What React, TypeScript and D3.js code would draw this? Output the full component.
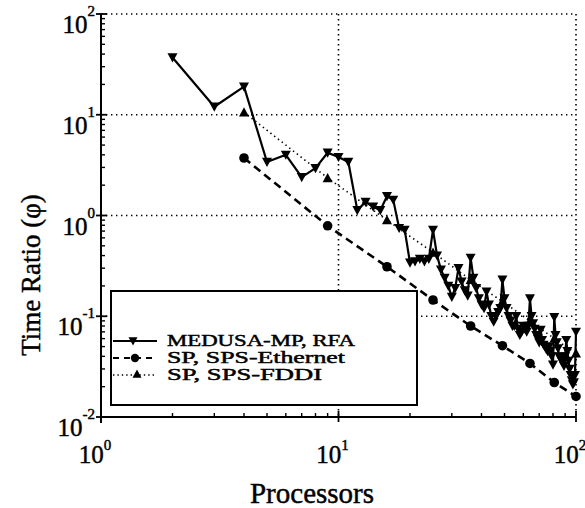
import React from "react";
import * as d3 from "d3";

// Processor counts for the MEDUSA-MP run (every count from 2 to 100)
const medusaProcs = [
  2, 3, 4, 5, 6, 7, 8, 9, 10, 11, 12, 13, 14, 15, 16, 17, 18, 19, 20,
  21, 22, 23, 24, 25, 26, 27, 28, 29, 30, 31, 32, 33, 34, 35, 36, 37, 38, 39, 40,
  41, 42, 43, 44, 45, 46, 47, 48, 49, 50, 51, 52, 53, 54, 55, 56, 57, 58, 59, 60,
  61, 62, 63, 64, 65, 66, 67, 68, 69, 70, 71, 72, 73, 74, 75, 76, 77, 78, 79, 80,
  81, 82, 83, 84, 85, 86, 87, 88, 89, 90, 91, 92, 93, 94, 95, 96, 97, 98, 99, 100,
];
const medusaRatio = [
  37, 12, 19, 3.4, 4.0, 2.4, 2.95, 4.2, 3.8, 3.4, 1.13, 1.36, 1.22, 1.13, 1.55, 1.43, 0.75, 0.72, 0.34,
  0.35, 0.37, 0.35, 0.37, 0.72, 0.4, 0.29, 0.24, 0.2, 0.155, 0.19, 0.3, 0.22, 0.18, 0.16, 0.38, 0.24, 0.19, 0.15, 0.13,
  0.12, 0.175, 0.13, 0.1, 0.088, 0.1, 0.11, 0.12, 0.23, 0.15, 0.12, 0.1, 0.09, 0.08, 0.08, 0.1, 0.075, 0.065, 0.07, 0.08,
  0.075, 0.07, 0.08, 0.15, 0.1, 0.085, 0.075, 0.065, 0.06, 0.055, 0.073, 0.058, 0.052, 0.05, 0.047, 0.045, 0.05, 0.045, 0.04, 0.033,
  0.098, 0.065, 0.055, 0.048, 0.04, 0.038, 0.036, 0.035, 0.032, 0.04, 0.058, 0.045, 0.036, 0.03, 0.026, 0.023, 0.021, 0.022, 0.026, 0.07,
];

// SP runs on square processor grids
const spProcs = [4, 9, 16, 25, 36, 49, 64, 81, 100];
const ethernetRatio = [3.72, 0.79, 0.31, 0.145, 0.08, 0.051, 0.034, 0.022, 0.016];
const fddiRatio = [10.6, 2.36, 0.9, 0.43, 0.23, 0.14, 0.09, 0.06, 0.043];

const xDecades = [1, 10, 100];
const xExponents = ["0", "1", "2"];
const yDecades = [0.01, 0.1, 1, 10, 100];
const yExponents = ["-2", "-1", "0", "1", "2"];

const seriesNames = ["MEDUSA-MP, RFA", "SP, SPS-Ethernet", "SP, SPS-FDDI"];

const W = 585;
const H = 508;
const FONT = "'Liberation Serif', 'Times New Roman', serif";

const x = d3.scaleLog().domain([1, 100]).range([101, 576]);
const y = d3.scaleLog().domain([0.01, 100]).range([417, 14]);

const downTri = (s: number) => `M${-s / 2},${-s * 0.42}L${s / 2},${-s * 0.42}L0,${s * 0.5}Z`;
const upTri = (s: number) => `M${-s / 2},${s * 0.42}L${s / 2},${s * 0.42}L0,${-s * 0.5}Z`;

function minorTicks(decades: number[]): number[] {
  const out: number[] = [];
  for (const d of decades) for (let k = 2; k <= 9; k++) out.push(d * k);
  return out;
}

export default function App() {
  const line = d3
    .line<[number, number]>()
    .x((d) => x(d[0]))
    .y((d) => y(d[1]));

  const medusa = medusaProcs.map((p, i) => [p, medusaRatio[i]] as [number, number]);
  const ether = spProcs.map((p, i) => [p, ethernetRatio[i]] as [number, number]);
  const fddi = spProcs.map((p, i) => [p, fddiRatio[i]] as [number, number]);

  const gridDots = { stroke: "#000", strokeWidth: 1.6, strokeDasharray: "1.4 3.6", fill: "none" };
  const ink = { fill: "#000", stroke: "#000", strokeWidth: 0.45 };

  // legend rows: baseline of each label; the sample line sits 6px above it
  const rowBase = [346, 363, 380];

  return (
    <svg width={W} height={H} style={{ display: "block", position: "absolute", left: 0, top: 0, background: "#fff" }}>
      <rect x={0} y={0} width={W} height={H} fill="#fff" />

      {/* dotted decade grid, including the top and right frame */}
      {yDecades.slice(1).map((v) => (
        <line key={"gy" + v} x1={x(1)} x2={x(100)} y1={y(v)} y2={y(v)} {...gridDots} />
      ))}
      {xDecades.slice(1).map((v) => (
        <line key={"gx" + v} x1={x(v)} x2={x(v)} y1={y(100)} y2={y(0.01)} {...gridDots} />
      ))}

      {/* series */}
      <path d={line(fddi) || ""} fill="none" stroke="#000" strokeWidth={1.6} strokeDasharray="1.4 3.4" />
      <path d={line(ether) || ""} fill="none" stroke="#000" strokeWidth={2.6} strokeDasharray="8 5" />
      <path d={line(medusa) || ""} fill="none" stroke="#000" strokeWidth={2.2} strokeLinejoin="round" />

      {fddi.map((d, i) => (
        <path key={"f" + i} d={upTri(10)} transform={`translate(${x(d[0])},${y(d[1])})`} fill="#000" />
      ))}
      {ether.map((d, i) => (
        <circle key={"e" + i} cx={x(d[0])} cy={y(d[1])} r={4.8} fill="#000" />
      ))}
      {medusa.map((d, i) => (
        <path key={"m" + i} d={downTri(10)} transform={`translate(${x(d[0])},${y(d[1])})`} fill="#000" />
      ))}

      {/* axes */}
      <line x1={x(1)} x2={x(1)} y1={y(100)} y2={y(0.01) + 6} stroke="#000" strokeWidth={2} />
      <line x1={x(1)} x2={x(100)} y1={y(0.01)} y2={y(0.01)} stroke="#000" strokeWidth={2} />
      {minorTicks([1, 10]).map((v) => (
        <line key={"mx" + v} x1={x(v)} x2={x(v)} y1={y(0.01)} y2={y(0.01) - 4} stroke="#000" strokeWidth={1.4} />
      ))}
      {xDecades.map((v) => (
        <line key={"Mx" + v} x1={x(v)} x2={x(v)} y1={y(0.01) + 5} y2={y(0.01) - 6} stroke="#000" strokeWidth={1.8} />
      ))}
      {minorTicks([0.01, 0.1, 1, 10]).map((v) => (
        <line key={"my" + v} x1={x(1)} x2={x(1) + 4} y1={y(v)} y2={y(v)} stroke="#000" strokeWidth={1.4} />
      ))}
      {yDecades.map((v) => (
        <line key={"My" + v} x1={x(1) - 5} x2={x(1) + 6} y1={y(v)} y2={y(v)} stroke="#000" strokeWidth={1.8} />
      ))}

      {/* tick labels */}
      {yDecades.map((v, i) => (
        <text key={"ty" + v} x={95} y={y(v) + 19} textAnchor="end" fontFamily={FONT} fontSize={25} {...ink}>
          10
          <tspan dy={-17} fontSize={15}>
            {yExponents[i]}
          </tspan>
        </text>
      ))}
      {xDecades.map((v, i) => (
        <text key={"tx" + v} x={x(v) - 6} y={463} textAnchor="middle" fontFamily={FONT} fontSize={25} {...ink}>
          10
          <tspan dy={-13} fontSize={15}>
            {xExponents[i]}
          </tspan>
        </text>
      ))}

      {/* axis titles */}
      <text x={312} y={503} textAnchor="middle" fontFamily={FONT} fontSize={29} {...ink}>
        Processors
      </text>
      <text transform="translate(40,275) rotate(-90)" textAnchor="middle" fontFamily={FONT} fontSize={27} {...ink}>
        Time Ratio (φ)
      </text>

      {/* legend */}
      <rect x={111} y={291} width={306} height={114} fill="#fff" stroke="#000" strokeWidth={2} />
      <g fontFamily={FONT} fontSize={16}>
        <line x1={113} x2={157} y1={rowBase[0] - 5} y2={rowBase[0] - 5} stroke="#000" strokeWidth={2} />
        <path d={downTri(9)} transform={`translate(133,${rowBase[0] - 5})`} fill="#000" />
        <text x={167} y={rowBase[0]} textLength={188} lengthAdjust="spacingAndGlyphs" {...ink}>
          {seriesNames[0]}
        </text>

        <line x1={113} x2={157} y1={rowBase[1] - 5} y2={rowBase[1] - 5} stroke="#000" strokeWidth={2.2} strokeDasharray="6 5" />
        <circle cx={135} cy={rowBase[1] - 5} r={4.2} fill="#000" />
        <text x={167} y={rowBase[1]} textLength={178} lengthAdjust="spacingAndGlyphs" {...ink}>
          {seriesNames[1]}
        </text>

        <line x1={113} x2={157} y1={rowBase[2] - 5} y2={rowBase[2] - 5} stroke="#000" strokeWidth={1.5} strokeDasharray="1.4 3" />
        <path d={upTri(9)} transform={`translate(137,${rowBase[2] - 6})`} fill="#000" />
        <text x={167} y={rowBase[2]} textLength={155} lengthAdjust="spacingAndGlyphs" {...ink}>
          {seriesNames[2]}
        </text>
      </g>
    </svg>
  );
}
